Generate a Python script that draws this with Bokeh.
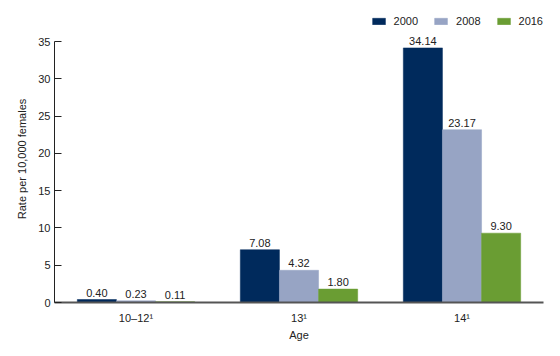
from bokeh.plotting import figure
from bokeh.models import ColumnDataSource, FactorRange, Range1d, Legend, LegendItem
from bokeh.transform import dodge
from bokeh.core.properties import value
from bokeh.embed import file_html
from bokeh.resources import INLINE

ages = ["10\u201312\u00b9", "13\u00b9", "14\u00b9"]
years = ["2000", "2008", "2016"]
rate_2000 = [0.40, 7.08, 34.14]
rate_2008 = [0.23, 4.32, 23.17]
rate_2016 = [0.11, 1.80, 9.30]
colors = ["#002a5c", "#97a4c4", "#6a9d33"]
y_ticks = [0, 5, 10, 15, 20, 25, 30, 35]

series = [rate_2000, rate_2008, rate_2016]
data = {"age": ages}
for yr, vals in zip(years, series):
    data["v" + yr] = vals
    data["t" + yr] = [f"{v:.2f}" for v in vals]
src = ColumnDataSource(data)

FONT = "Liberation Sans"

p = figure(x_range=FactorRange(factors=ages, range_padding=0),
           y_range=Range1d(0, 38.49),
           width=560, height=356, output_backend="svg", toolbar_location=None,
           min_border_left=54, min_border_right=17, min_border_top=15, min_border_bottom=54)

p.outline_line_color = None
p.xgrid.grid_line_color = None
p.ygrid.grid_line_color = None

offsets = [-0.24, 0.0, 0.24]
items = []
for yr, off, col in zip(years, offsets, colors):
    r = p.vbar(x=dodge("age", off, range=p.x_range), top="v" + yr, width=0.24,
               source=src, fill_color=col, line_color=col, line_width=0.5)
    p.text(x=dodge("age", off, range=p.x_range), y="v" + yr, text="t" + yr, source=src,
           text_align="center", text_baseline="bottom", y_offset=-3,
           text_font=value(FONT), text_font_size="11px", text_color="#222222")
    items.append(LegendItem(label=yr, renderers=[r]))

legend = Legend(items=items, orientation="horizontal", location="top_right",
                margin=0, padding=3, spacing=15, glyph_width=16, glyph_height=8,
                label_standoff=7, label_text_font=FONT, label_text_font_size="11px",
                label_text_color="#222222", border_line_color=None, background_fill_alpha=0)
p.add_layout(legend)

xa = p.xaxis[0]
xa.axis_line_color = "#555555"
xa.axis_line_width = 2
xa.major_tick_line_color = None
xa.minor_tick_line_color = None
xa.major_label_standoff = 3
xa.major_label_text_font = FONT
xa.major_label_text_font_size = "11px"
xa.major_label_text_color = "#222222"
xa.axis_label = "Age"
xa.axis_label_text_font = FONT
xa.axis_label_text_font_size = "11px"
xa.axis_label_text_font_style = "normal"
xa.axis_label_text_color = "#222222"
xa.axis_label_standoff = 2

ya = p.yaxis[0]
ya.bounds = (0, 35)
ya.ticker = y_ticks
ya.axis_line_color = "#222222"
ya.major_tick_in = 7
ya.major_tick_out = 0
ya.major_tick_line_color = "#222222"
ya.minor_tick_line_color = None
ya.major_label_standoff = 4
ya.major_label_text_font = FONT
ya.major_label_text_font_size = "11px"
ya.major_label_text_color = "#222222"
ya.axis_label = "Rate per 10,000 females"
ya.axis_label_text_font = FONT
ya.axis_label_text_font_size = "11px"
ya.axis_label_text_font_style = "normal"
ya.axis_label_text_color = "#222222"
ya.axis_label_standoff = 7

open("out.html", "w").write(file_html(p, INLINE))
